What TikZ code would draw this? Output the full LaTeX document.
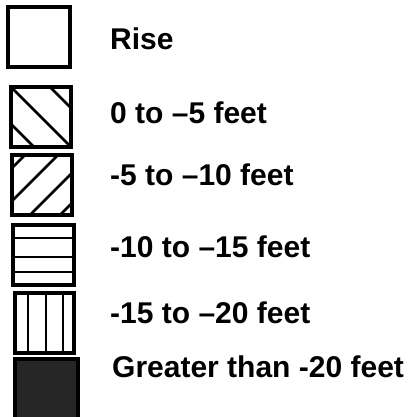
\documentclass[tikz,border=0pt]{standalone}
\usepackage{fontspec}
\setmainfont{Liberation Sans}
\usetikzlibrary{calc, positioning}

\begin{document}
\begin{tikzpicture}[x=1pt, y=-1pt,
    keybox/.style={draw=black, line width=3.4pt, minimum width=60pt, minimum height=60pt, inner sep=0pt},
    hatch/.style={line width=2.6pt, black},
    keytext/.style={anchor=base west, inner sep=0pt, font=\fontsize{30}{35}\selectfont\bfseries}]
\useasboundingbox (0,0) rectangle (407,417);

%
\node[keybox, minimum width=62pt] (rise) at (39,37) {};

\node[keybox, path picture={
    \draw[hatch] (path picture bounding box.north west) -- (path picture bounding box.south east);
    \draw[hatch] ($(path picture bounding box.north west)+(39,0)$) -- ($(path picture bounding box.south east)+(39,0)$);
    \draw[hatch] ($(path picture bounding box.north west)+(-37,0)$) -- ($(path picture bounding box.south east)+(-37,0)$);
  }] (drop5) at (41,117) {};

\node[keybox, path picture={
    \draw[hatch] ($(path picture bounding box.south west)+(-47,0)$) -- ($(path picture bounding box.north east)+(-47,0)$);
    \draw[hatch] ($(path picture bounding box.south west)+(-14,0)$) -- ($(path picture bounding box.north east)+(-14,0)$);
    \draw[hatch] ($(path picture bounding box.south west)+(18,0)$) -- ($(path picture bounding box.north east)+(18,0)$);
    \draw[hatch] ($(path picture bounding box.south west)+(48,0)$) -- ($(path picture bounding box.north east)+(48,0)$);
  }] (drop10) at (42,185) {};

\node[keybox, minimum width=61pt, path picture={
    \draw[hatch] ($(path picture bounding box.north west)+(0,13)$) -- ($(path picture bounding box.north east)+(0,13)$);
    \draw[hatch] ($(path picture bounding box.north west)+(0,32)$) -- ($(path picture bounding box.north east)+(0,32)$);
    \draw[hatch] ($(path picture bounding box.north west)+(0,47)$) -- ($(path picture bounding box.north east)+(0,47)$);
  }] (drop15) at (43.5,255) {};

\node[keybox, minimum width=59pt, path picture={
    \draw[hatch] ($(path picture bounding box.north west)+(13,0)$) -- ($(path picture bounding box.south west)+(13,0)$);
    \draw[hatch] ($(path picture bounding box.north west)+(31,0)$) -- ($(path picture bounding box.south west)+(31,0)$);
    \draw[hatch] ($(path picture bounding box.north west)+(48,0)$) -- ($(path picture bounding box.south west)+(48,0)$);
  }] (drop20) at (44.5,323) {};

\node[keybox, minimum width=63pt, fill=black!85] (deep) at (46.5,389) {};

%
\node[keytext] (risetxt)   at (110,50)  {Rise};
\node[keytext] (drop5txt)  at (110,123) {0 to –5 feet};
\node[keytext] (drop10txt) at (110,185) {-5 to –10 feet};
\node[keytext] (drop15txt) at (110,257) {-10 to –15 feet};
\node[keytext] (drop20txt) at (110,323) {-15 to –20 feet};
\node[keytext] (deeptxt)   at (112,377) {Greater than -20 feet};
\end{tikzpicture}
\end{document}
